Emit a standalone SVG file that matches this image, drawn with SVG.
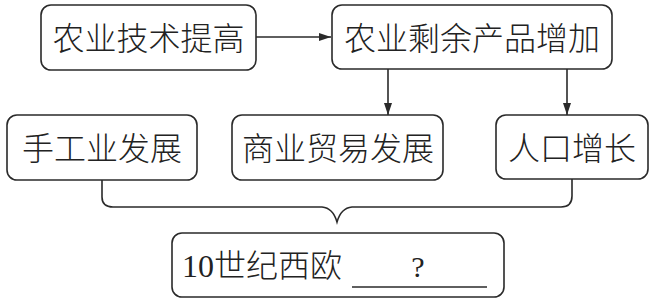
<svg xmlns="http://www.w3.org/2000/svg" width="652" height="301" viewBox="0 0 652 301">
<style>
.box{fill:#fff;stroke:#2a2a2a;stroke-width:1.6}
.t{font-family:"Liberation Serif","Noto Sans CJK SC",serif;font-size:32px;fill:#222;text-anchor:middle;font-weight:300}
.ln{fill:none;stroke:#2a2a2a;stroke-width:1.6}
</style>
<defs>
<marker id="ah" viewBox="0 0 12 8" refX="12" refY="4" markerWidth="12" markerHeight="8" markerUnits="userSpaceOnUse" orient="auto">
<path d="M0,0 L12,4 L0,8 Z" fill="#2a2a2a"/>
</marker>
</defs>
<rect width="652" height="301" fill="#fff"/>
<g id="connectors">
<line class="ln" x1="256" y1="37" x2="331" y2="37" marker-end="url(#ah)"/>
<line class="ln" x1="388" y1="69" x2="388" y2="115" marker-end="url(#ah)"/>
<line class="ln" x1="567" y1="69" x2="567" y2="115" marker-end="url(#ah)"/>
<path class="ln" d="M102,180 V197 Q102,207 113,207 H322 Q333,208 337,222 Q341,208 352,207 H561 Q572,207 572,196 V179"/>
</g>
<g id="n1"><rect class="box" x="41" y="5" width="215" height="65" rx="10"/><text class="t" x="148.5" y="50">农业技术提高</text></g>
<g id="n2"><rect class="box" x="332" y="5" width="280" height="64" rx="10"/><text class="t" x="472" y="50">农业剩余产品增加</text></g>
<g id="n3"><rect class="box" x="7" y="115" width="190" height="65" rx="10"/><text class="t" x="102" y="160">手工业发展</text></g>
<g id="n4"><rect class="box" x="232" y="115" width="211" height="65" rx="10"/><text class="t" x="338" y="160">商业贸易发展</text></g>
<g id="n5"><rect class="box" x="496" y="115" width="152" height="64" rx="10"/><text class="t" x="572" y="160">人口增长</text></g>
<g id="n6"><rect class="box" x="172" y="233" width="332" height="64" rx="10"/>
<text class="t" x="182" y="277" style="text-anchor:start">10世纪西欧</text>
<line class="ln" x1="352" y1="287" x2="487" y2="287"/>
<text class="t" x="418" y="277" style="font-size:30px">?</text>
</g>
</svg>
